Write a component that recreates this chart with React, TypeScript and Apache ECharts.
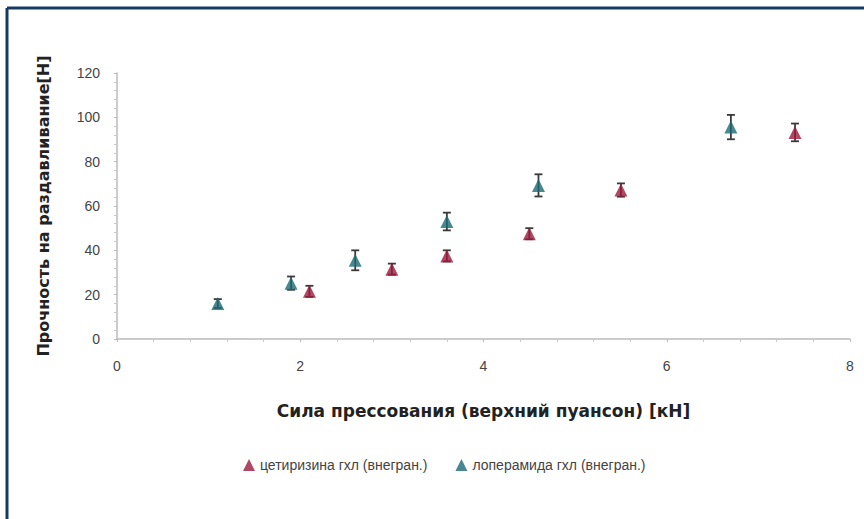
import React, { useEffect, useRef } from "react";
import * as echarts from "echarts";

const cetName = "цетиризина гхл (внегран.)";
const lopName = "лоперамида гхл (внегран.)";
const cetX = [2.1, 3.0, 3.6, 4.5, 5.5, 7.4];
const cetY = [21.5, 31.5, 37.5, 47.5, 67.2, 93.2];
const cetErr = [2.5, 2.5, 2.5, 2.5, 3, 4];
const lopX = [1.1, 1.9, 2.6, 3.6, 4.6, 6.7];
const lopY = [16, 25.2, 35.5, 53, 69.3, 95.6];
const lopErr = [2, 3, 4.5, 4, 5, 5.5];
const xTicks = [0, 2, 4, 6, 8];
const yTicks = [0, 20, 40, 60, 80, 100, 120];

const RED = "#9e1a3c";
const TEAL = "#1d6a74";

function errSeries(xs: number[], ys: number[], es: number[]) {
  return {
    type: "custom",
    z: 1,
    silent: true,
    data: xs.map((x, i) => [x, ys[i], es[i]]),
    renderItem: (params: any, api: any) => {
      const x = api.value(0), y = api.value(1), e = api.value(2);
      const t = api.coord([x, y + e]);
      const b = api.coord([x, y - e]);
      const hw = 4;
      const st = { stroke: "#3a3a3a", lineWidth: 1.8 };
      return {
        type: "group",
        children: [
          { type: "line", shape: { x1: t[0], y1: t[1], x2: b[0], y2: b[1] }, style: st },
          { type: "line", shape: { x1: t[0] - hw, y1: t[1], x2: t[0] + hw, y2: t[1] }, style: st },
          { type: "line", shape: { x1: b[0] - hw, y1: b[1], x2: b[0] + hw, y2: b[1] }, style: st },
        ],
      };
    },
  };
}

export default function App() {
  const ref = useRef<HTMLDivElement>(null);
  useEffect(() => {
    const chart = echarts.init(ref.current!, null, { renderer: "svg" });
    chart.setOption({
      animation: false,
      backgroundColor: "#ffffff",
      textStyle: { fontFamily: "Liberation Sans, Arial, sans-serif" },
      graphic: [
        { type: "line", shape: { x1: 7, y1: 8, x2: 864, y2: 8 }, style: { stroke: "#173b60", lineWidth: 3 } },
        { type: "line", shape: { x1: 7, y1: 8, x2: 7, y2: 519 }, style: { stroke: "#173b60", lineWidth: 3 } },
      ],
      grid: { left: 117, right: 14, top: 73, bottom: 180 },
      legend: {
        left: 238,
        top: 453,
        itemGap: 28,
        itemWidth: 12,
        itemHeight: 12,
        icon: "triangle",
        textStyle: { fontSize: 14, color: "#444" },
        data: [
          { name: cetName, itemStyle: { color: RED } },
          { name: lopName, itemStyle: { color: TEAL } },
        ],
      },
      xAxis: {
        type: "value",
        min: xTicks[0],
        max: xTicks[xTicks.length - 1],
        interval: 2,
        name: "Сила прессования (верхний пуансон) [кН]",
        nameLocation: "middle",
        nameGap: 63,
        nameTextStyle: { fontSize: 17, fontWeight: "bold", color: "#222", fontFamily: "DejaVu Sans" },
        axisLine: { lineStyle: { color: "#bbbbbb", width: 1.5 } },
        axisTick: { show: true, length: 3, inside: false, lineStyle: { color: "#bbbbbb" } },
        minorTick: { show: true, splitNumber: 5, length: 3, lineStyle: { color: "#c8c8c8" } },
        splitLine: { show: false },
        axisLabel: { fontSize: 14, color: "#444", margin: 20 },
      },
      yAxis: {
        type: "value",
        min: yTicks[0],
        max: yTicks[yTicks.length - 1],
        interval: 20,
        name: "Прочность на раздавливание[Н]",
        nameLocation: "middle",
        nameGap: 66,
        nameTextStyle: { fontSize: 16, fontWeight: "bold", color: "#222", fontFamily: "DejaVu Sans" },
        axisLine: { show: true, lineStyle: { color: "#bbbbbb", width: 1.5 } },
        axisTick: { show: true, length: 3, lineStyle: { color: "#bbbbbb" } },
        minorTick: { show: true, splitNumber: 5, length: 3, lineStyle: { color: "#c8c8c8" } },
        splitLine: { show: false },
        axisLabel: { fontSize: 14, color: "#444", margin: 17 },
      },
      series: [
        errSeries(cetX, cetY, cetErr),
        errSeries(lopX, lopY, lopErr),
        {
          name: cetName,
          type: "scatter",
          z: 3,
          symbol: "triangle",
          symbolSize: [13, 13],
          itemStyle: { color: RED },
          data: cetX.map((x, i) => [x, cetY[i]]),
        },
        {
          name: lopName,
          type: "scatter",
          z: 3,
          symbol: "triangle",
          symbolSize: [13, 13],
          itemStyle: { color: TEAL },
          data: lopX.map((x, i) => [x, lopY[i]]),
        },
      ],
    });
    return () => chart.dispose();
  }, []);
  return <div ref={ref} style={{ width: 864, height: 519, position: "absolute", left: 0, top: 0 }} />;
}
